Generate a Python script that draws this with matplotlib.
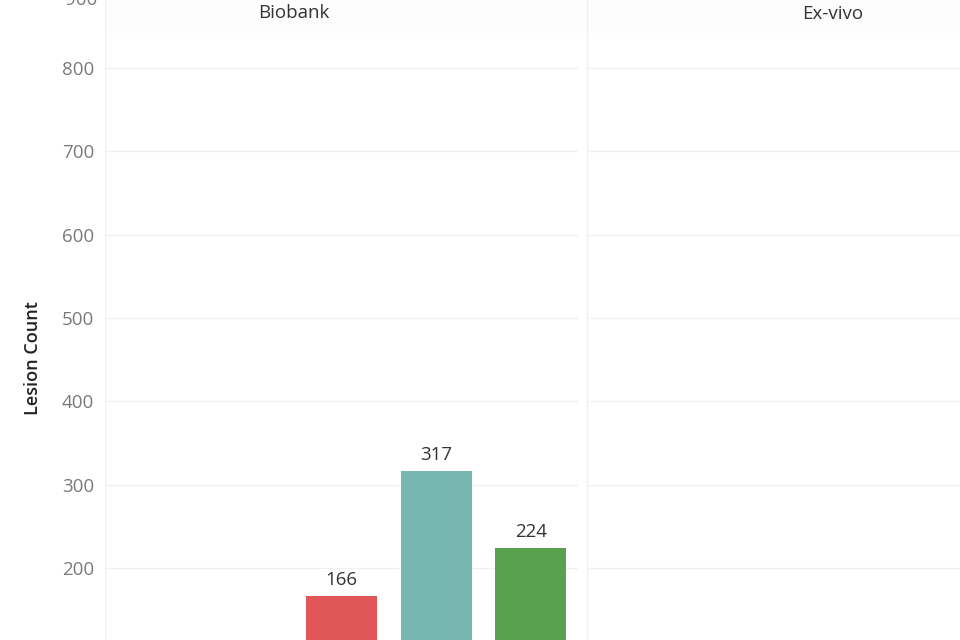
import matplotlib.pyplot as plt
from matplotlib.patches import Rectangle

# facets and bar data (only bars that reach the visible range are drawn)
panels = ["Biobank", "Ex-vivo"]
slots = 5
biobank_pos = [2, 3, 4]
biobank_counts = [166, 317, 224]
biobank_colors = ["#e15759", "#76b7b2", "#59a14f"]
y_ticks = [200, 300, 400, 500, 600, 700, 800]
y_range = (113.6, 881.6)

plt.rcParams['font.family'] = ['Open Sans', 'DejaVu Sans']
grid_c = "#f0f0f0"
tick_c = "#7a7a7a"

fig = plt.figure(figsize=(9.6, 6.4), dpi=100)
W, H = 960.0, 640.0

# header band behind both panels, barely visible
fig.add_artist(Rectangle((105 / W, 1 - 32 / H), 1 - 105 / W, 32 / H,
                         transform=fig.transFigure, color="#fcfdfc", zorder=-1))

ax1 = fig.add_axes([105 / W, 0, (578 - 105) / W, 1])
ax2 = fig.add_axes([588 / W, 0, (960 - 588) / W, 1])

for ax in (ax1, ax2):
    ax.set_facecolor("none")
    ax.set_ylim(*y_range)
    ax.set_xlim(-0.5, slots - 0.5)
    ax.set_yticks(y_ticks)
    ax.set_xticks([])
    for s in ax.spines.values():
        s.set_visible(False)
    ax.grid(axis="y", color=grid_c, lw=1)
    ax.set_axisbelow(True)
    ax.tick_params(axis="y", length=0, pad=8, labelsize=13.5, labelcolor=tick_c)

ax2.set_yticklabels([])

# left axis line
ax1.axvline(-0.5, color=grid_c, lw=1, zorder=0)

bars = ax1.bar(biobank_pos, biobank_counts, width=0.75, color=biobank_colors)
for b, v in zip(bars, biobank_counts):
    ax1.annotate(str(v), (b.get_x() + b.get_width() / 2, v), xytext=(0, 5),
                 textcoords="offset points", ha="center", va="bottom",
                 fontsize=13.5, color="#333333")

# top tick label that Tableau nudges into view
ax1.annotate("900", (0, 1), xycoords="axes fraction", xytext=(-8, 0),
             textcoords="offset pixels", ha="right", va="center",
             fontsize=13.5, color=tick_c, annotation_clip=False)

# panel divider
fig.add_artist(plt.Line2D([586.5 / W, 586.5 / W], [0, 1], color=grid_c, lw=1))

fig.text(294 / W, 1 - 13 / H, panels[0], ha="center", va="center",
         fontsize=13.5, color="#333333")
fig.text(833 / W, 1 - 14 / H, panels[1], ha="center", va="center",
         fontsize=13.5, color="#333333")

fig.text(33 / W, 1 - 358 / H, "Lesion Count", rotation=90, ha="center",
         va="center", fontsize=13, color="#222222", fontweight="semibold")

fig.savefig("out.png", dpi=100)
